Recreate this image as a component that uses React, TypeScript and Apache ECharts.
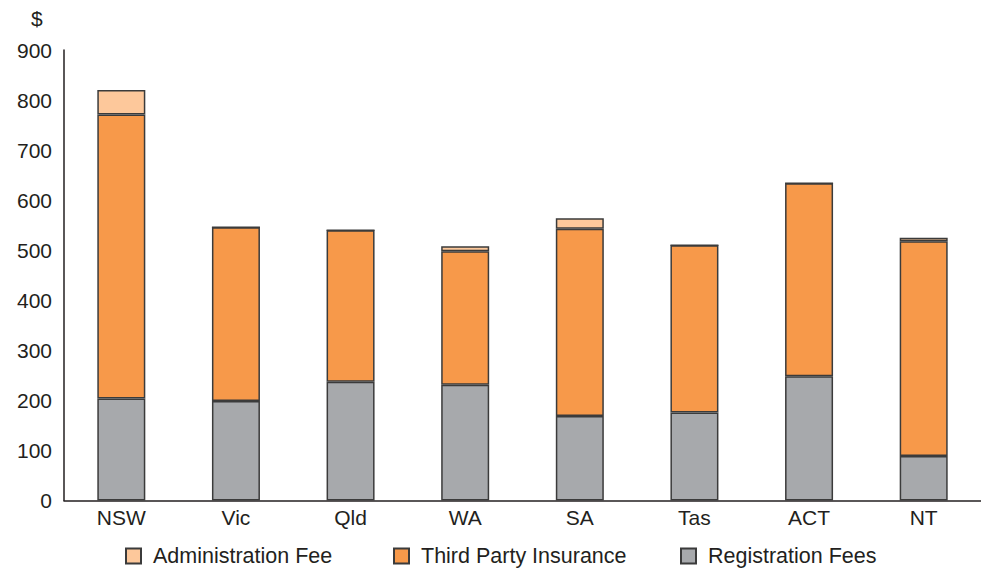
import React, { useEffect, useRef } from "react";
import * as echarts from "echarts";

const states = ["NSW", "Vic", "Qld", "WA", "SA", "Tas", "ACT", "NT"];
const registrationFees = [204, 199, 237, 231, 169, 176, 248, 89];
const thirdPartyInsurance = [567, 347, 303, 267, 374, 334, 386, 429];
const administrationFee = [49, 0, 0, 10, 21, 0, 0, 7];
const yTicks = [0, 100, 200, 300, 400, 500, 600, 700, 800, 900];
const legendNames = ["Administration Fee", "Third Party Insurance", "Registration Fees"];

const FONT = "'Liberation Sans', Arial, Helvetica, sans-serif";
const INK = "#231f20";
const EDGE = "#3b3b3b";
const legendLeft = [125, 393, 680];

export default function App() {
  const ref = useRef<HTMLDivElement>(null);

  useEffect(() => {
    document.body.style.margin = "0";
    const chart = echarts.init(ref.current!, null, { renderer: "svg" });

    const bar = (name: string, data: number[], color: string) => ({
      name,
      type: "bar",
      stack: "total",
      barWidth: 48,
      data,
      itemStyle: { color, borderColor: EDGE, borderWidth: 1.5 },
    });

    chart.setOption({
      animation: false,
      textStyle: { fontFamily: FONT },
      grid: { left: 64, right: 0, top: 50, bottom: 70.5 },
      xAxis: {
        type: "category",
        data: states,
        axisLine: { show: true, lineStyle: { color: INK, width: 1.5 } },
        axisTick: { show: false },
        axisLabel: { color: INK, fontSize: 21, margin: 6, fontFamily: FONT },
      },
      yAxis: {
        type: "value",
        min: yTicks[0],
        max: yTicks[yTicks.length - 1],
        interval: 100,
        axisLine: { show: true, lineStyle: { color: INK, width: 1.5 } },
        axisTick: { show: false },
        splitLine: { show: false },
        axisLabel: { color: INK, fontSize: 21, margin: 12, fontFamily: FONT },
      },
      legend: legendNames.map((name, i) => ({
        left: legendLeft[i],
        top: 545,
        padding: 0,
        icon: "rect",
        itemWidth: 15,
        itemHeight: 15,
        textStyle: {
          color: INK,
          fontSize: 21.5,
          lineHeight: 22,
          fontFamily: FONT,
          padding: [0, 0, 0, 7],
        },
        data: [name],
      })),
      graphic: [
        {
          type: "text",
          left: 31,
          top: 8,
          style: { text: "$", fill: INK, font: `21px ${FONT}` },
        },
      ],
      series: [
        bar("Registration Fees", registrationFees, "#a7a9ac"),
        bar("Third Party Insurance", thirdPartyInsurance, "#f7994a"),
        bar("Administration Fee", administrationFee, "#fdc89b"),
      ],
    });

    return () => chart.dispose();
  }, []);

  return <div ref={ref} style={{ width: 981, height: 571 }} />;
}
